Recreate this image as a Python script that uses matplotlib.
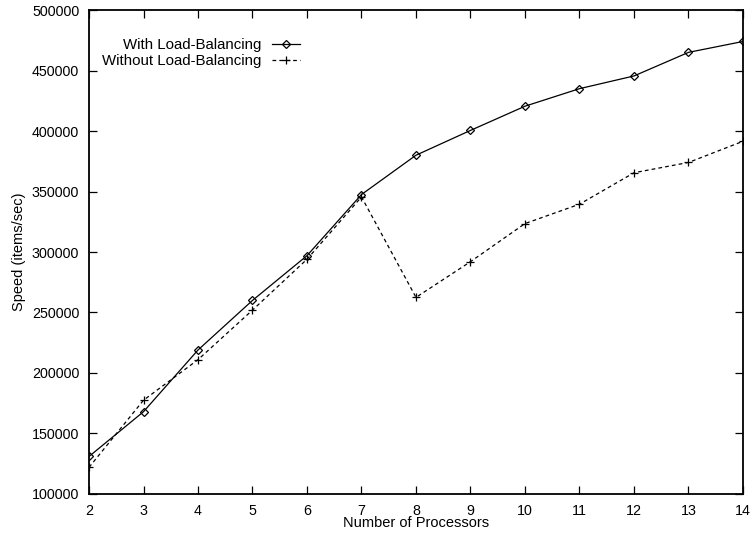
import matplotlib
matplotlib.use('Agg')
import matplotlib.pyplot as plt

plt.rcParams['font.family'] = ['Liberation Sans', 'DejaVu Sans']

# processor counts and measured speed (items/sec)
processors = [2, 3, 4, 5, 6, 7, 8, 9, 10, 11, 12, 13, 14]
with_lb = [131000, 168000, 219000, 260000, 297000, 347500, 380000,
           400500, 420500, 435000, 445500, 465000, 474000]
without_lb = [122000, 177500, 211000, 252000, 294000, 345500, 262500,
              292000, 323500, 339500, 365500, 374000, 391500]

x_ticks = processors
y_ticks = [100000, 150000, 200000, 250000, 300000, 350000, 400000, 450000, 500000]

fig = plt.figure(figsize=(7.53, 5.33), dpi=100)
ax = fig.add_axes([0.1182, 0.0732, 0.8685, 0.908])

ax.plot(processors, with_lb, color='black', linestyle='-', linewidth=0.9,
        marker='D', markersize=4.5, markerfacecolor='none', markeredgewidth=0.9,
        label='With Load-Balancing')
ax.plot(processors, without_lb, color='black', linestyle=(0, (3, 2.5)), linewidth=0.9,
        marker='+', markersize=6, markeredgewidth=0.9,
        label='Without Load-Balancing')

ax.set_xlim(2, 14)
ax.set_ylim(100000, 500000)
ax.set_xticks(x_ticks)
ax.set_yticks(y_ticks)
ax.set_yticklabels([str(v) for v in y_ticks])
ax.tick_params(direction='in', length=6, width=0.9, top=True, right=True,
               labelsize=10.3, colors='black', pad=7)
for s in ax.spines.values():
    s.set_linewidth(1.3)

ax.set_xlabel('Number of Processors', fontsize=10.5, labelpad=-1)
ax.set_ylabel('Speed (items/sec)', fontsize=10.5, labelpad=4)

ax.legend(loc='upper right', bbox_to_anchor=(0.3226, 0.942), frameon=False,
          markerfirst=False, fontsize=10.8, handlelength=1.85, handletextpad=0.7,
          labelspacing=0.15, borderpad=0, borderaxespad=0)

fig.savefig('out.png', dpi=100)
